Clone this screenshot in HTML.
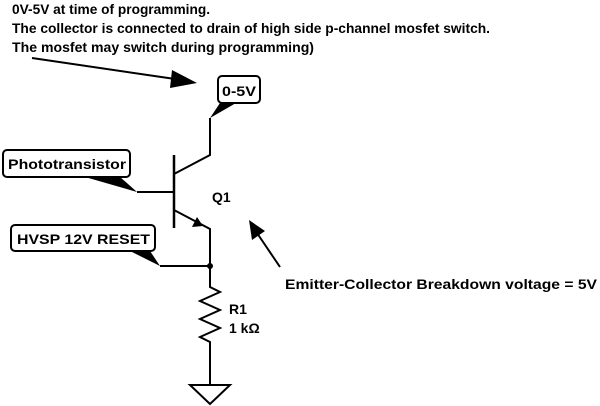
<!DOCTYPE html>
<html><head><meta charset="utf-8"><style>
html,body{margin:0;padding:0;background:#fff;width:600px;height:406px;overflow:hidden}
svg{display:block}
text{font-family:"Liberation Sans",Arial,sans-serif;font-weight:bold;fill:#000}
</style></head><body>
<svg width="600" height="406" viewBox="0 0 600 406" xmlns="http://www.w3.org/2000/svg">
<g font-size="14">
<text x="12" y="14" textLength="198" lengthAdjust="spacingAndGlyphs">0V-5V at time of programming.</text>
<text x="12" y="33" textLength="478" lengthAdjust="spacingAndGlyphs">The collector is connected to drain of high side p-channel mosfet switch.</text>
<text x="12" y="52" textLength="302" lengthAdjust="spacingAndGlyphs">The mosfet may switch during programming)</text>
<text x="285" y="289" textLength="312" lengthAdjust="spacingAndGlyphs">Emitter-Collector Breakdown voltage = 5V</text>
<text x="212" y="202">Q1</text>
<text x="229" y="314">R1</text>
<text x="229" y="333">1 kΩ</text>
</g>
<g stroke="#000" stroke-width="2" fill="none">
<line x1="32" y1="58" x2="175" y2="79"/>
<line x1="280" y1="267" x2="257" y2="233"/>
<polyline points="210,118 210,155 174,174"/>
<line x1="174" y1="155" x2="174" y2="228" stroke-width="2.5"/>
<line x1="137" y1="192" x2="174" y2="192"/>
<polyline points="174,210 210,229 210,266"/>
<line x1="160" y1="266" x2="210" y2="266"/>
<polyline points="210,266 210,287 220,292 200,301 220,310 200,319 220,328 200,337 210,342 210,385"/>
<polygon points="190,385 230,385 210,404"/>
<rect x="218" y="76" width="42" height="27" rx="4"/>
<rect x="3" y="150" width="127" height="27" rx="4"/>
<rect x="11" y="225" width="144" height="26" rx="4"/>
</g>
<g fill="#000">
<polygon points="197,83 170,88 172,70"/>
<polygon points="249,220 265,231 252,240"/>
<polygon points="203,226 192,227 197,217"/>
<circle cx="210" cy="266" r="3"/>
<polygon points="220,103 236,103 210,118"/>
<polygon points="85,177 120,177 137,192"/>
<polygon points="130,251 150,251 160,266"/>
</g>
<g font-size="14">
<text x="222" y="96" textLength="34" lengthAdjust="spacingAndGlyphs">0-5V</text>
<text x="8" y="169" textLength="118" lengthAdjust="spacingAndGlyphs">Phototransistor</text>
<text x="17" y="244" textLength="133" lengthAdjust="spacingAndGlyphs">HVSP 12V RESET</text>
</g>
</svg>
</body></html>
